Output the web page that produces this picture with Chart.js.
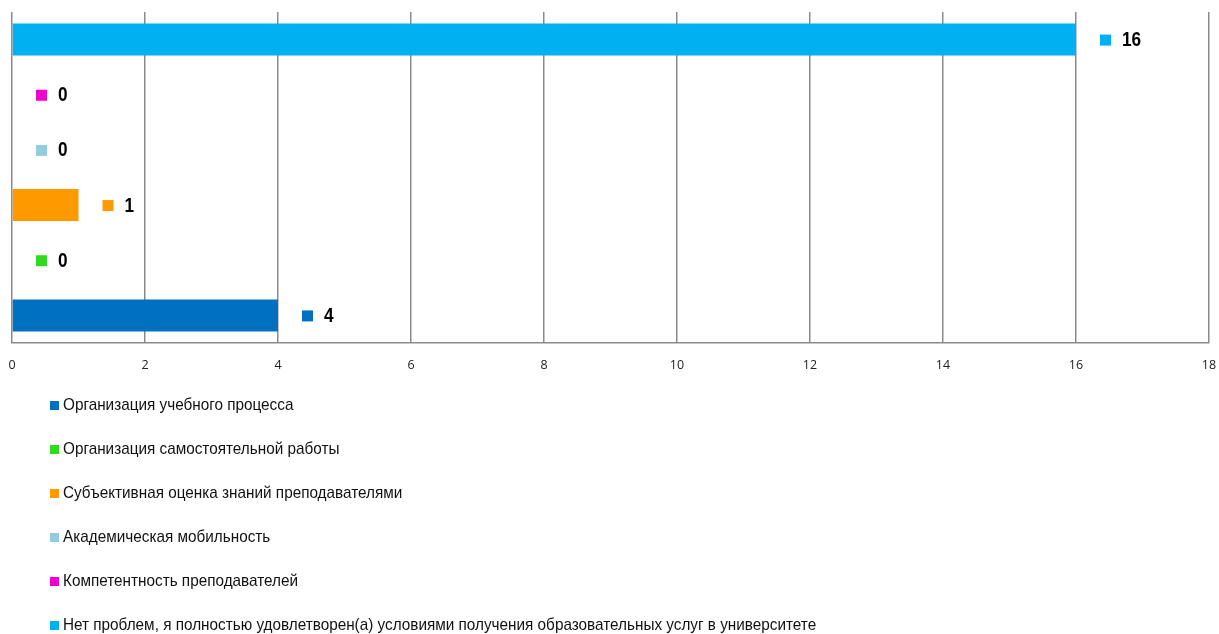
<!DOCTYPE html>
<html>
<head>
<meta charset="utf-8">
<script src="https://cdn.jsdelivr.net/npm/chart.js@4.4.1/dist/chart.umd.min.js"></script>
<style>
  body { margin: 0; background: #fff; }
  #wrap { position: relative; width: 1219px; height: 634px; }
  #legend { position: absolute; left: 50px; top: 0; font-family: "Liberation Sans", Arial, sans-serif; font-size: 17px; color: #111; }
  .item { position: absolute; left: 0; white-space: nowrap; display: flex; align-items: center; height: 20px; }
  .box { width: 9px; height: 9px; margin-right: 4px; flex: none; }
  .txt { display: inline-block; transform: scaleX(0.9); transform-origin: left center; }
</style>
</head>
<body>
<div id="wrap">
  <canvas id="chart" width="1219" height="634"></canvas>
  <div id="legend"></div>
</div>
<script>
// Series in legend order (top of legend = bottom bar)
const seriesNames = [
    'Организация учебного процесса',
    'Организация самостоятельной работы',
    'Субъективная оценка знаний преподавателями',
    'Академическая мобильность',
    'Компетентность преподавателей',
    'Нет проблем, я полностью удовлетворен(а) условиями получения образовательных услуг в университете'
];
const seriesValues = [4, 0, 1, 0, 0, 16];
const seriesColors = ['#0070C0', '#2EDB1E', '#FF9900', '#93CDDD', '#F000CC', '#00B0F0'];
const xTicks = [0, 2, 4, 6, 8, 10, 12, 14, 16, 18];

// bars are drawn top -> bottom, so feed the datasets in reverse
const datasets = seriesNames.map((name, i) => ({
    label: name,
    data: [seriesValues[i]],
    backgroundColor: seriesColors[i],
    borderWidth: 0
})).reverse();

// value label with a small colour key next to each bar end
const valueLabels = {
    id: 'valueLabels',
    afterDatasetsDraw(chart) {
        const ctx = chart.ctx;
        chart.data.datasets.forEach((ds, i) => {
            const bar = chart.getDatasetMeta(i).data[0];
            ctx.save();
            ctx.fillStyle = ds.backgroundColor;
            ctx.fillRect(bar.x + 24, bar.y - 5, 11, 11);
            // squeeze the bold digits a bit, like a narrow face
            ctx.translate(bar.x + 46, bar.y + 1);
            ctx.scale(0.86, 1);
            ctx.font = 'bold 20px "Liberation Sans", Arial, sans-serif';
            ctx.textBaseline = 'middle';
            ctx.textAlign = 'left';
            ctx.fillStyle = '#000';
            ctx.fillText(String(ds.data[0]), 0, 0);
            ctx.restore();
        });
    }
};

const chart = new Chart(document.getElementById('chart').getContext('2d'), {
    type: 'bar',
    data: {
        labels: [''],
        datasets: datasets
    },
    options: {
        indexAxis: 'y',
        responsive: false,
        animation: false,
        categoryPercentage: 1,
        barPercentage: 0.58,
        layout: {
            padding: { left: 12, right: 10, top: 12, bottom: 246 }
        },
        plugins: {
            legend: { display: false },
            tooltip: { enabled: false }
        },
        scales: {
            x: {
                min: 0,
                max: 18,
                afterBuildTicks: (axis) => { axis.ticks = xTicks.map(v => ({ value: v })); },
                afterFit: (axis) => { axis.paddingLeft = 0; axis.paddingRight = 0; },
                grid: { color: '#8a8a8a', lineWidth: 1.5, drawTicks: false },
                border: { color: '#8a8a8a', width: 1.5 },
                ticks: {
                    padding: 15,
                    color: '#222',
                    font: { family: '"Open Sans", sans-serif', size: 12.5 }
                }
            },
            y: { display: false }
        }
    },
    plugins: [valueLabels]
});

// legend: one entry per line, in the original order
const legend = document.getElementById('legend');
seriesNames.forEach((name, i) => {
    const row = document.createElement('div');
    row.className = 'item';
    row.style.top = (395 + i * 44) + 'px';
    row.innerHTML = '<span class="box" style="background:' + seriesColors[i] + '"></span>' +
        '<span class="txt">' + name + '</span>';
    legend.appendChild(row);
});
</script>
</body>
</html>
